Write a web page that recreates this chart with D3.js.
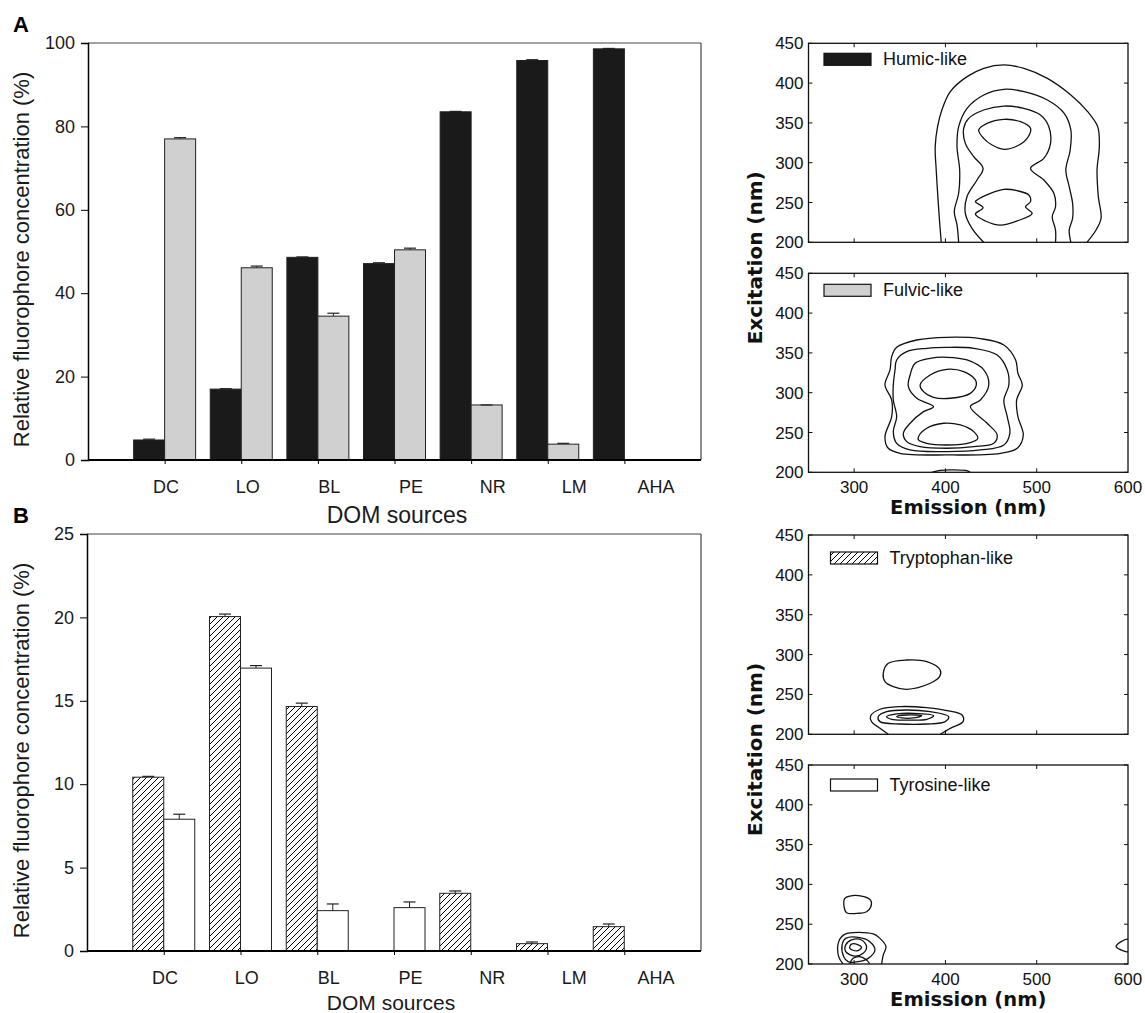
<!DOCTYPE html>
<html>
<head>
<meta charset="utf-8">
<script src="https://cdn.jsdelivr.net/npm/d3@7"></script>
<style>
  body { margin: 0; background: #fff; }
  svg { display: block; font-family: "Liberation Sans", Arial, sans-serif; }
</style>
</head>
<body>
<script>
// DOM sources and relative fluorophore concentrations (%)
const categories = ["DC", "LO", "BL", "PE", "NR", "LM", "AHA"];
const humic = [4.8, 17.0, 48.6, 47.1, 83.5, 95.8, 98.6];
const humicErr = [0.2, 0.1, 0.1, 0.2, 0.1, 0.2, 0.1];
const fulvic = [77.0, 46.1, 34.5, 50.4, 13.2, 3.8, 0];
const fulvicErr = [0.3, 0.4, 0.7, 0.4, 0, 0.2, 0];
const tryptophan = [10.42, 20.05, 14.66, 0, 3.46, 0.44, 1.46];
const tryptophanErr = [0.05, 0.15, 0.2, 0, 0.14, 0.1, 0.16];
const tyrosine = [7.9, 16.96, 2.42, 2.6, 0, 0, 0];
const tyrosineErr = [0.3, 0.15, 0.4, 0.34, 0, 0, 0];

const ticksA = [0, 20, 40, 60, 80, 100];
const ticksB = [0, 5, 10, 15, 20, 25];
const emTicks = [300, 400, 500, 600];
const exTicks = [200, 250, 300, 350, 400, 450];

// EEM contour lines, [emission nm, excitation nm]
const humicContours = [
  [[395.4,200],[393.2,232.2],[391.7,257.4],[389.9,290.9],[388.8,320.2],[391.4,345.3],[396.1,366.2],[405.3,389.3],[423.7,408.1],[442,418.6],[464,422.8],[486.1,418.6],[511.7,406],[537.4,385.1],[555.8,364.2],[566.8,345.3],[568.6,320.2],[566.1,290.9],[567.5,257.4],[570.5,230.2],[565,215.5],[555,200]],
  [[414.5,200],[412.7,221.8],[409.7,238.5],[414.5,261.6],[415.6,290.9],[412.7,320.2],[414.5,345.3],[423.7,368.3],[442,385.1],[464,392.2],[486.1,389.3],[511.7,378.8],[530.1,362.1],[537.4,341.1],[536.7,316],[531.9,290.9],[535.6,269.9],[539.3,249],[539.3,230.2],[535.6,215.5],[537.4,200]],
  [[441.9,200],[429.1,217.5],[421.8,236.4],[423.6,257.3],[434.6,278.2],[441.2,292.9],[431,307.6],[421.8,324.3],[420,343.2],[425.5,355.7],[441.9,366.2],[463.9,371.2],[485.8,368.3],[504.1,359.9],[513.3,345.2],[515.1,324.3],[507.8,305.5],[493.2,292.9],[507.8,278.2],[518.8,261.5],[520.6,244.7],[517,232.2],[520.6,215.4],[520.6,200]],
  [[436.5,341.1],[445.6,349.4],[463.9,354.5],[482.2,351.5],[493.2,343.2],[489.5,330.6],[478.5,321],[463.9,316.8],[451.1,322.2],[441.9,330.6]],
  [[434.6,253.1],[449.3,261.5],[463.9,266.5],[478.5,264.8],[491.3,259.4],[493.2,251],[487.7,244.7],[495,236.4],[478.5,226.8],[460.2,221.5],[443.8,226.8],[432.8,235.5],[441.2,243.5],[432.8,251]]
];
const fulvicContours = [
  [[346.6,357],[368.6,366.2],[401.7,369.6],[438.3,367.9],[464,360],[476.9,341.1],[479.4,324.4],[484.2,309.7],[478,290.9],[479.4,269.9],[485.3,246.9],[478.7,230.2],[460.4,223.9],[401.7,221.8],[350.3,223.9],[337.4,230.2],[333.8,244.8],[341.1,269.9],[341.1,290.9],[333.8,309.7],[339.3,328.6],[341.1,345.3]],
  [[346.6,341.1],[357.6,351.6],[379.6,355.8],[401.7,357],[431,355.8],[456.7,347.4],[467.7,328.6],[469.5,309.7],[464,290.9],[467.7,269.9],[470.6,249],[464,234.3],[438.3,228.1],[401.7,226],[361.3,228.1],[346.6,236.4],[342.9,251.1],[346.6,269.9],[342.9,290.9],[342.9,309.7],[344.8,328.6]],
  [[359.4,307.6],[361.3,322.3],[366.8,336.9],[383.3,343.2],[401.7,344.5],[423.7,341.1],[442,328.6],[447.5,309.7],[438.3,290.9],[427.3,282.5],[445.7,261.6],[456.7,246.9],[453,236.4],[431,232.2],[401.7,230.2],[372.3,232.2],[357.6,238.5],[353.9,249],[361.3,261.6],[376,276.2],[387,282.5],[368.6,293]],
  [[372.3,309.7],[383.3,322.3],[401.7,329.4],[420,326.5],[432.8,316],[433.9,309.7],[427.3,299.2],[405.3,293],[387,294.2],[376,301.3]],
  [[370.5,244.8],[379.6,255.3],[398,261.6],[416.3,259.5],[431,251.1],[435.4,242.7],[427.3,237.3],[401.7,234.3],[379.6,236.4],[370.5,240.6]],
  [[385,200],[394,202.5],[408,203],[424,201.8],[427,200]]
];
const tryptophanContours = [
  [[331.9,276.5],[337.4,289],[357.6,293.2],[379.6,291.1],[394.3,280.7],[393.6,272.3],[383.3,264],[357.6,256.4],[342.9,259.8],[333.8,266.1]],
  [[337.4,200],[328.3,207.5],[319.1,215.9],[318,223],[328.3,231.4],[350.3,234.7],[379.6,233.4],[401.7,229.7],[418.2,224.2],[419.3,215.9],[405.3,207.5],[394.3,200]],
  [[326.4,222.2],[335.6,228.4],[357.6,230.5],[383.3,228.4],[403.5,222.2],[399.8,215.9],[379.6,212.9],[350.3,212.9],[328.3,215.9]],
  [[335.6,222.2],[346.6,225.5],[365,226.3],[387,223.4],[379.6,218.8],[357.6,217.9],[341.1,218.8]],
  [[346.6,222.2],[357.6,224.2],[374.1,223.4],[365,220.5],[352.1,220.5]]
];
const tyrosineContours = [
  [[289.7,282.5],[295.2,285.4],[308.1,285.4],[318,280.4],[318.3,272],[313.6,265.7],[304.4,263.7],[291.6,264.5],[289,272]],
  [[287.9,200],[283.1,209.2],[283.1,228.1],[289.7,237.3],[320.9,237.7],[328.3,232.2],[334.9,221.8],[331.9,211.3],[330.1,200]],
  [[288.6,209.2],[286.8,223.9],[290.8,232.2],[306.2,233.1],[317.2,228.1],[322.8,217.6],[315.4,207.1],[304.4,202.9],[293.4,202.9]],
  [[290.8,215.5],[290.8,224],[297.1,230.2],[308.1,230.2],[313.6,221.8],[309.9,213.4],[300.7,210]],
  [[295.2,219.7],[297.1,224.9],[304.4,224],[308.1,220.7],[303.3,216.5]],
  [[295.2,200],[298.9,207.1],[306.2,209.2],[313.6,205],[317.2,200]],
  [[600,231],[592.5,228.1],[587,221.8],[594.3,216.8],[600,215.5]]
];

const W = 1145, H = 1013;
const svg = d3.select("body").append("svg")
    .attr("width", W)
    .attr("height", H);

const defs = svg.append("defs");
defs.append("pattern")
    .attr("id", "hatch")
    .attr("patternUnits", "userSpaceOnUse")
    .attr("width", 6).attr("height", 6)
  .append("path")
    .attr("d", "M-1,1 l2,-2 M0,6 l6,-6 M5,7 l2,-2")
    .attr("stroke", "#000")
    .attr("stroke-width", 1);

const fills = {
  humic: "#1a1a1a",
  fulvic: "#d0d0d0",
  tryptophan: "url(#hatch)",
  tyrosine: "#fff"
};

// grouped bar chart
function barChart(box, series, ticks, yMax, letter) {
  const g = svg.append("g");
  const w = box.x1 - box.x0;
  const x = d3.scalePoint().domain(categories).range([box.x0 + w / 8, box.x1 - w / 8]);
  const xLab = d3.scalePoint().domain(categories).range([box.x0 + 78, box.x1 - 45]);
  const y = d3.scaleLinear().domain([0, yMax]).range([box.y1, box.y0]);
  const bw = 31;

  // frame
  g.append("line").attr("x1", box.x0).attr("x2", box.x1).attr("y1", box.y0).attr("y2", box.y0)
      .attr("stroke", "#444").attr("stroke-width", 1.2);
  g.append("line").attr("x1", box.x1).attr("x2", box.x1).attr("y1", box.y0).attr("y2", box.y1)
      .attr("stroke", "#444").attr("stroke-width", 1.2);

  series.forEach(function(s, si) {
    const sg = g.append("g");
    sg.selectAll("rect")
      .data(s.values)
      .enter()
      .append("rect")
        .attr("x", (d, i) => x(categories[i]) - bw + si * bw)
        .attr("y", d => y(d))
        .attr("width", bw)
        .attr("height", d => y(0) - y(d))
        .attr("fill", s.fill)
        .attr("stroke", d => d > 0 ? "#222" : "none")
        .attr("stroke-width", 1);
    // error bars
    s.values.forEach(function(v, i) {
      if (v <= 0) return;
      const cx = x(categories[i]) - bw / 2 + si * bw;
      const yt = y(v + s.err[i]);
      sg.append("line").attr("x1", cx).attr("x2", cx).attr("y1", y(v)).attr("y2", yt)
          .attr("stroke", "#222").attr("stroke-width", 1);
      sg.append("line").attr("x1", cx - 6).attr("x2", cx + 6).attr("y1", yt).attr("y2", yt)
          .attr("stroke", "#222").attr("stroke-width", 1.2);
    });
  });

  // y axis
  const ya = g.append("g")
      .attr("transform", "translate(" + box.x0 + ",0)")
      .call(d3.axisLeft(y).tickValues(ticks).tickSize(7).tickPadding(6));
  ya.select(".domain").attr("stroke-width", 1.5);
  ya.selectAll("text").attr("font-size", 18).attr("fill", "#1a1a1a")
      .attr("font-family", "Liberation Sans, Arial, sans-serif");

  // x axis
  const xa = g.append("g")
      .attr("transform", "translate(0," + box.y1 + ")")
      .call(d3.axisBottom(x).tickSize(4).tickFormat(""));
  xa.select(".domain").attr("d", "M" + box.x0 + ",0H" + box.x1).attr("stroke-width", 2);
  g.selectAll(".catlab")
    .data(categories)
    .enter()
    .append("text")
      .attr("x", d => xLab(d))
      .attr("y", box.y1 + 33)
      .attr("text-anchor", "middle")
      .attr("font-size", 18)
      .attr("fill", "#1a1a1a")
      .text(d => d);

  g.append("text")
      .attr("transform", "translate(29," + ((box.y0 + box.y1) / 2 + 8) + ") rotate(-90)")
      .attr("text-anchor", "middle")
      .attr("font-size", 22)
      .attr("fill", "#1a1a1a")
      .text("Relative fluorophore concentration (%)");

  g.append("text")
      .attr("x", box.titleX)
      .attr("y", box.titleY)
      .attr("text-anchor", "middle")
      .attr("font-size", box.titleSize)
      .attr("fill", "#1a1a1a")
      .text("DOM sources");

  g.append("text")
      .attr("x", 13)
      .attr("y", box.letterY)
      .attr("font-size", 22)
      .attr("font-weight", "bold")
      .text(letter);
}

barChart({x0: 88, x1: 701, y0: 43, y1: 460, titleX: 397, titleY: 523, titleSize: 23, letterY: 32},
  [{values: humic, err: humicErr, fill: fills.humic},
   {values: fulvic, err: fulvicErr, fill: fills.fulvic}], ticksA, 100, "A");

barChart({x0: 87, x1: 701, y0: 534, y1: 951, titleX: 391, titleY: 1010, titleSize: 21, letterY: 523},
  [{values: tryptophan, err: tryptophanErr, fill: fills.tryptophan},
   {values: tyrosine, err: tyrosineErr, fill: fills.tyrosine}], ticksB, 25, "B");

// EEM contour panels
function eemPanel(box, contours, legend, showX, id) {
  const g = svg.append("g");
  const x = d3.scaleLinear().domain([250, 600]).range([box.x0, box.x1]);
  const y = d3.scaleLinear().domain([200, 450]).range([box.y1, box.y0]);

  defs.append("clipPath").attr("id", "clip" + id)
    .append("rect").attr("x", box.x0).attr("y", box.y0)
      .attr("width", box.x1 - box.x0).attr("height", box.y1 - box.y0);

  const cg = g.append("g").attr("clip-path", "url(#clip" + id + ")");
  contours.forEach(function(pts) {
    const open = pts[0][1] <= 200 && pts[pts.length - 1][1] <= 200;
    const line = d3.line()
        .x(d => x(d[0]))
        .y(d => y(d[1]))
        .curve(open ? d3.curveCatmullRom.alpha(0.5) : d3.curveCatmullRomClosed.alpha(0.5));
    cg.append("path")
        .attr("d", line(pts))
        .attr("fill", "none")
        .attr("stroke", "#111")
        .attr("stroke-width", 1.3);
  });

  g.append("rect")
      .attr("x", box.x0).attr("y", box.y0)
      .attr("width", box.x1 - box.x0).attr("height", box.y1 - box.y0)
      .attr("fill", "none").attr("stroke", "#111").attr("stroke-width", 1.3);

  // inward ticks on all four sides
  const inner = [300, 400, 500];
  inner.forEach(function(t) {
    g.append("line").attr("x1", x(t)).attr("x2", x(t)).attr("y1", box.y1).attr("y2", box.y1 - 4).attr("stroke", "#111");
    g.append("line").attr("x1", x(t)).attr("x2", x(t)).attr("y1", box.y0).attr("y2", box.y0 + 4).attr("stroke", "#111");
  });
  exTicks.forEach(function(t) {
    g.append("line").attr("x1", box.x0).attr("x2", box.x0 + 4).attr("y1", y(t)).attr("y2", y(t)).attr("stroke", "#111");
    g.append("line").attr("x1", box.x1).attr("x2", box.x1 - 4).attr("y1", y(t)).attr("y2", y(t)).attr("stroke", "#111");
  });

  g.selectAll(".ylab")
    .data(exTicks)
    .enter()
    .append("text")
      .attr("x", box.x0 - 5)
      .attr("y", d => y(d) + 6)
      .attr("text-anchor", "end")
      .attr("font-size", 17)
      .attr("fill", "#111")
      .text(d => d);

  if (showX) {
    g.selectAll(".xlab")
      .data(emTicks)
      .enter()
      .append("text")
        .attr("x", d => x(d))
        .attr("y", box.y1 + 21)
        .attr("text-anchor", "middle")
        .attr("font-size", 17)
        .attr("fill", "#111")
        .text(d => d);
    g.append("text")
        .attr("x", (box.x0 + box.x1) / 2 + 0)
        .attr("y", box.y1 + 42)
        .attr("text-anchor", "middle")
        .attr("font-family", "DejaVu Sans, Verdana, sans-serif")
        .attr("font-weight", "bold")
        .attr("font-size", 19.5)
        .attr("fill", "#111")
        .text("Emission (nm)");
  }

  // legend
  g.append("rect")
      .attr("x", legend.x).attr("y", box.y0 + legend.dy)
      .attr("width", 47).attr("height", 12)
      .attr("fill", legend.fill)
      .attr("stroke", "#111").attr("stroke-width", 1.2);
  g.append("text")
      .attr("x", legend.x + 59)
      .attr("y", box.y0 + legend.dy + 12)
      .attr("font-size", 18)
      .attr("fill", "#111")
      .text(legend.label);
}

eemPanel({x0: 808.5, x1: 1128, y0: 43.3, y1: 242.3}, humicContours,
  {x: 824, dy: 10, fill: fills.humic, label: "Humic-like"}, false, 1);
eemPanel({x0: 808.5, x1: 1128, y0: 273.3, y1: 472.3}, fulvicContours,
  {x: 824, dy: 11, fill: fills.fulvic, label: "Fulvic-like"}, true, 2);
eemPanel({x0: 808.5, x1: 1128, y0: 535, y1: 734.3}, tryptophanContours,
  {x: 830.5, dy: 17, fill: fills.tryptophan, label: "Tryptophan-like"}, false, 3);
eemPanel({x0: 808.5, x1: 1128, y0: 765, y1: 964}, tyrosineContours,
  {x: 830.5, dy: 14, fill: fills.tyrosine, label: "Tyrosine-like"}, true, 4);

// shared excitation labels
[[43.3, 472.3], [535, 964]].forEach(function(r) {
  svg.append("text")
      .attr("transform", "translate(762," + ((r[0] + r[1]) / 2) + ") rotate(-90)")
      .attr("text-anchor", "middle")
      .attr("font-family", "DejaVu Sans, Verdana, sans-serif")
      .attr("font-weight", "bold")
      .attr("font-size", 20)
      .attr("fill", "#111")
      .text("Excitation (nm)");
});
</script>
</body>
</html>
